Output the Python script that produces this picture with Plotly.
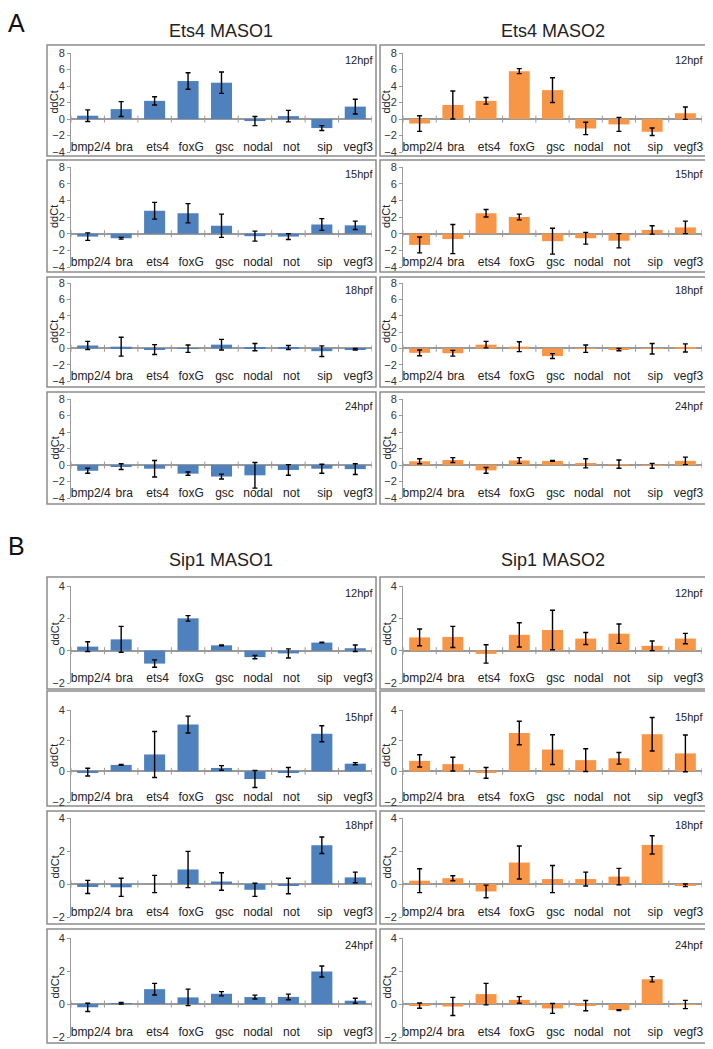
import plotly.graph_objects as go

genes = ["bmp2/4", "bra", "ets4", "foxG", "gsc", "nodal", "not", "sip", "vegf3"]
stages = ["12hpf", "15hpf", "18hpf", "24hpf"]

# Panel A - Ets4 morpholinos (rows: 12, 15, 18, 24 hpf)
ets4_maso1_mean = [
    [0.4, 1.2, 2.2, 4.6, 4.4, -0.25, 0.35, -1.1, 1.5],
    [-0.35, -0.55, 2.75, 2.45, 0.95, -0.3, -0.35, 1.1, 1.0],
    [0.35, 0.2, -0.15, -0.05, 0.45, 0.15, 0.1, -0.35, -0.1],
    [-0.7, -0.2, -0.45, -1.05, -1.4, -1.25, -0.6, -0.45, -0.5],
]
ets4_maso1_err = [
    [0.7, 0.9, 0.5, 1.0, 1.3, 0.55, 0.7, 0.3, 0.9],
    [0.45, 0.1, 1.0, 1.15, 1.4, 0.6, 0.35, 0.7, 0.5],
    [0.5, 1.15, 0.6, 0.45, 0.65, 0.45, 0.25, 0.65, 0.1],
    [0.3, 0.35, 1.0, 0.2, 0.3, 1.55, 0.65, 0.55, 0.65],
]
ets4_maso2_mean = [
    [-0.55, 1.7, 2.2, 5.8, 3.5, -1.15, -0.65, -1.55, 0.7],
    [-1.35, -0.65, 2.45, 2.0, -0.9, -0.55, -0.85, 0.45, 0.75],
    [-0.55, -0.6, 0.45, 0.2, -0.95, -0.05, -0.15, -0.05, 0.05],
    [0.45, 0.6, -0.65, 0.55, 0.5, 0.2, 0.1, -0.1, 0.5],
]
ets4_maso2_err = [
    [0.95, 1.7, 0.4, 0.3, 1.5, 0.75, 0.85, 0.45, 0.75],
    [0.95, 1.75, 0.45, 0.35, 1.55, 0.7, 0.85, 0.5, 0.75],
    [0.35, 0.35, 0.4, 0.6, 0.3, 0.45, 0.15, 0.65, 0.5],
    [0.3, 0.3, 0.35, 0.35, 0.05, 0.55, 0.5, 0.3, 0.45],
]

# Panel B - Sip1 morpholinos
sip1_maso1_mean = [
    [0.25, 0.7, -0.8, 2.0, 0.33, -0.4, -0.17, 0.5, 0.15],
    [-0.05, 0.42, 1.1, 3.05, 0.22, -0.5, -0.05, 2.45, 0.5],
    [-0.18, -0.2, 0.0, 0.88, 0.15, -0.35, -0.12, 2.35, 0.4],
    [-0.2, 0.05, 0.9, 0.4, 0.62, 0.42, 0.43, 1.97, 0.2],
]
sip1_maso1_err = [
    [0.3, 0.8, 0.23, 0.17, 0.03, 0.1, 0.28, 0.02, 0.2],
    [0.25, 0.03, 1.5, 0.55, 0.15, 0.55, 0.3, 0.52, 0.07],
    [0.4, 0.55, 0.52, 1.1, 0.53, 0.4, 0.47, 0.5, 0.32],
    [0.25, 0.05, 0.35, 0.5, 0.13, 0.12, 0.17, 0.33, 0.15],
]
sip1_maso2_mean = [
    [0.82, 0.85, -0.2, 0.98, 1.28, 0.75, 1.05, 0.3, 0.75],
    [0.68, 0.47, -0.1, 2.5, 1.42, 0.73, 0.85, 2.42, 1.17],
    [0.2, 0.35, -0.45, 1.3, 0.3, 0.3, 0.45, 2.37, -0.08],
    [-0.1, -0.15, 0.6, 0.25, -0.27, -0.1, -0.37, 1.5, -0.03],
]
sip1_maso2_err = [
    [0.52, 0.65, 0.57, 0.75, 1.22, 0.37, 0.6, 0.3, 0.32],
    [0.4, 0.45, 0.35, 0.77, 0.97, 0.74, 0.38, 1.09, 1.2],
    [0.72, 0.15, 0.38, 1.0, 0.82, 0.42, 0.5, 0.55, 0.08],
    [0.16, 0.55, 0.65, 0.2, 0.3, 0.31, 0.02, 0.16, 0.25],
]

BLUE = "#4F81BD"
ORANGE = "#F79646"
GRAY = "#9a9a9a"
FONT = "Arial, Liberation Sans, sans-serif"

W, H = 713, 1049
PAGE_OFFSET = 8  # default body margin of the html page

# pixel geometry of the figure (x: left/right column, y: plot rows)
col_px = [(71, 372), (403, 702)]
box_col_px = [(47, 376), (380, 707)]
rows_a_px = [(53, 152), (167, 267), (283, 381), (399, 498)]
rows_b_px = [(586, 683), (710, 802), (818, 917), (938, 1037)]
box_a_px = [(45, 156), (160, 272), (277, 387), (392, 504)]
box_b_px = [(577, 689), (691, 806), (811, 924), (929, 1043)]


def px_x(v):
    return (v - PAGE_OFFSET) / W


def px_y(v):
    return 1 - (v - PAGE_OFFSET) / H


fig = go.Figure()
layout = {}
annotations = []
shapes = []

panels = [
    ("Ets4 MASO1", ets4_maso1_mean, ets4_maso1_err, BLUE, 0, "A"),
    ("Ets4 MASO2", ets4_maso2_mean, ets4_maso2_err, ORANGE, 1, "A"),
    ("Sip1 MASO1", sip1_maso1_mean, sip1_maso1_err, BLUE, 0, "B"),
    ("Sip1 MASO2", sip1_maso2_mean, sip1_maso2_err, ORANGE, 1, "B"),
]

idx = 0
for title, means, errs, color, col, block in panels:
    rows_px = rows_a_px if block == "A" else rows_b_px
    boxes_px = box_a_px if block == "A" else box_b_px
    yr = [-4, 8] if block == "A" else [-2, 4]
    x0, x1 = col_px[col]

    # column title
    annotations.append(dict(
        text=title, x=px_x((x0 + x1) / 2), y=px_y((31 if block == "A" else 560)),
        xref="paper", yref="paper", showarrow=False, xanchor="center", yanchor="middle",
        font=dict(size=18, color="#222", family=FONT)))

    for r in range(4):
        idx += 1
        xa = "x" if idx == 1 else f"x{idx}"
        ya = "y" if idx == 1 else f"y{idx}"
        xkey = "xaxis" if idx == 1 else f"xaxis{idx}"
        ykey = "yaxis" if idx == 1 else f"yaxis{idx}"
        top, bot = rows_px[r]

        fig.add_trace(go.Bar(
            x=list(range(len(genes))), y=means[r], width=0.63,
            marker=dict(color=color, line=dict(width=0)),
            error_y=dict(type="data", array=errs[r], color="black", thickness=1.4, width=2.5),
            xaxis=xa, yaxis=ya, showlegend=False, hoverinfo="skip"))

        # small tick marks on the zero axis between categories
        fig.add_trace(go.Scatter(
            x=[i - 0.5 for i in range(len(genes) + 1)], y=[0] * (len(genes) + 1),
            mode="markers", marker=dict(symbol="line-ns", size=5, line=dict(color=GRAY, width=1)),
            xaxis=xa, yaxis=ya, showlegend=False, hoverinfo="skip"))

        layout[xkey] = dict(
            domain=[px_x(x0), px_x(x1)], anchor=ya, range=[-0.5, 8.5],
            tickvals=list(range(len(genes))), ticktext=genes, ticklabelposition="inside",
            ticklabeloverflow="allow", ticklabelshift=3, ticklabelstandoff=-4, automargin=False,
            ticks="", showline=False, showgrid=False, zeroline=False, fixedrange=True,
            tickfont=dict(size=12, color="#222", family=FONT))
        layout[ykey] = dict(
            domain=[px_y(bot), px_y(top)], anchor=xa, range=yr, tickvals=list(range(yr[0], yr[1] + 1, 2)),
            showline=True, linecolor=GRAY, linewidth=1, ticks="outside", ticklen=3,
            tickcolor=GRAY, showgrid=False, zeroline=True, zerolinecolor=GRAY,
            zerolinewidth=1.5, fixedrange=True, automargin=False,
            tickfont=dict(size=11, color="#333", family=FONT))

        # stage label
        annotations.append(dict(
            text=stages[r], x=px_x(x1 + 3), y=px_y(top - 1), xref="paper", yref="paper",
            showarrow=False, xanchor="right", yanchor="top",
            font=dict(size=11, color="#222", family=FONT)))
        # y-axis title
        annotations.append(dict(
            text="ddCt", x=px_x(x0 - 17), y=px_y((top + bot) / 2), xref="paper", yref="paper",
            showarrow=False, textangle=-90, xanchor="center", yanchor="middle",
            font=dict(size=11, color="#222", family=FONT)))

        # chart border
        bx0, bx1 = box_col_px[col]
        by0, by1 = boxes_px[r]
        shapes.append(dict(
            type="rect", xref="paper", yref="paper",
            x0=px_x(bx0), x1=px_x(bx1), y0=px_y(by1), y1=px_y(by0),
            line=dict(color="#8c8c8c", width=1.5), layer="below"))

for letter, yy in [("A", 23), ("B", 546)]:
    annotations.append(dict(
        text=letter, x=px_x(16), y=px_y(yy), xref="paper", yref="paper",
        showarrow=False, xanchor="center", yanchor="middle",
        font=dict(size=25, color="#111", family=FONT)))

fig.update_layout(
    template="none",
    width=W, height=H, margin=dict(l=0, r=0, t=0, b=0, pad=0),
    paper_bgcolor="white", plot_bgcolor="white",
    annotations=annotations, shapes=shapes, bargap=0.37,
    font=dict(family=FONT), **layout)

fig.write_html("out.html")
